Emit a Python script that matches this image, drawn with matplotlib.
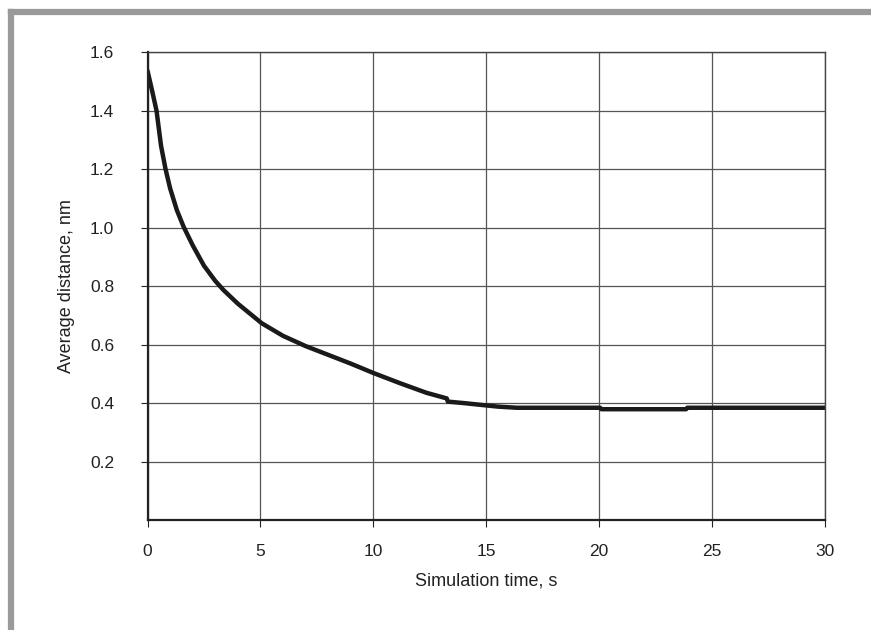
import matplotlib
matplotlib.use('Agg')
import matplotlib.pyplot as plt
from matplotlib.lines import Line2D

plt.rcParams['font.family'] = ['Liberation Sans', 'DejaVu Sans']

# valores
tempo = [0, 0.2, 0.4, 0.6, 0.8, 1.0, 1.3, 1.6, 2.0, 2.5, 3.0, 3.36, 4.0, 5.06, 6.0,
         7.0, 8.0, 9.0, 10.0, 11.18, 12.36, 13.25, 13.3, 14.0, 14.87, 15.5, 16.35,
         20.04, 20.1, 23.85, 23.9, 30]
distancia = [1.537, 1.47, 1.40, 1.28, 1.20, 1.135, 1.06, 1.003, 0.94, 0.87, 0.818,
             0.787, 0.74, 0.673, 0.630, 0.595, 0.565, 0.535, 0.503, 0.468, 0.435, 0.416,
             0.405, 0.40, 0.393, 0.388, 0.384, 0.384, 0.379, 0.379, 0.384, 0.384]
xticks = [0, 5, 10, 15, 20, 25, 30]
yticks = [0.2, 0.4, 0.6, 0.8, 1.0, 1.2, 1.4, 1.6]

fig = plt.figure(figsize=(8.71, 6.30), dpi=100)

# moldura cinza (topo e esquerda)
fig.add_artist(Line2D([11 / 871, 1], [1 - 12 / 630, 1 - 12 / 630], color='#9a9a9a', lw=4.5,
                      transform=fig.transFigure))
fig.add_artist(Line2D([11 / 871, 11 / 871], [0, 1 - 12 / 630], color='#9a9a9a', lw=4.5,
                      transform=fig.transFigure))

ax = fig.add_axes([147.5 / 871, 110 / 630, 677.5 / 871, 467.7 / 630])
ax.plot(tempo, distancia, color='#1a1a1a', lw=3.2, solid_capstyle='round')

ax.set_xlim(0, 30)
ax.set_ylim(0, 1.6)
ax.set_xticks(xticks)
ax.set_yticks(yticks)
ax.set_yticklabels(['%.1f' % v for v in yticks])
ax.grid(True, color='#555555', lw=0.9)
ax.set_axisbelow(True)

for s in ['left', 'bottom']:
    ax.spines[s].set_linewidth(1.6)
    ax.spines[s].set_color('#222222')
for s in ['right', 'top']:
    ax.spines[s].set_linewidth(1.0)
    ax.spines[s].set_color('#444444')

ax.tick_params(axis='y', direction='out', length=5, width=0.8, pad=19, labelsize=12.5,
               colors='#222222')
ax.tick_params(axis='x', direction='out', length=5, width=0.8, pad=12, labelsize=12.5,
               colors='#222222')

ax.set_xlabel('Simulation time, s', fontsize=13, color='#222222', labelpad=10)
ax.set_ylabel('Average distance, nm', fontsize=13, color='#222222', labelpad=11)

plt.savefig('out.png', dpi=100)
